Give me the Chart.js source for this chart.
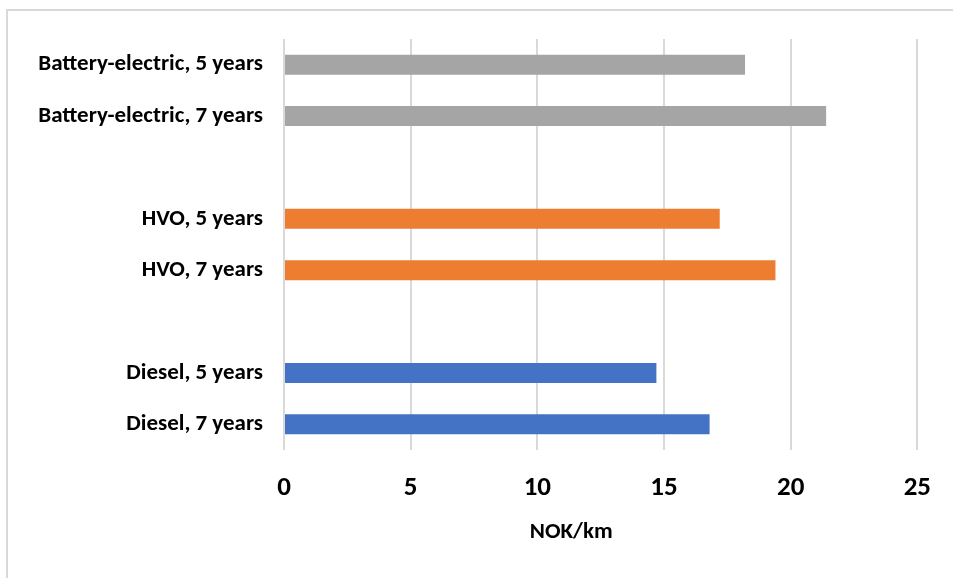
<!DOCTYPE html>
<html>
<head>
<meta charset="utf-8">
<script src="https://cdn.jsdelivr.net/npm/chart.js@4/dist/chart.umd.min.js"></script>
<style>
  html, body { margin: 0; padding: 0; background: #ffffff; }
  #wrap { position: relative; width: 953px; height: 578px; overflow: hidden; }
  #frame {
    position: absolute; left: 6px; top: 9px; width: 960px; height: 600px;
    border-top: 2px solid #d9d9d9; border-left: 2px solid #d9d9d9; box-sizing: border-box;
  }
  canvas { position: absolute; left: 0; top: 0; }
</style>
</head>
<body>
<div id="wrap">
  <div id="frame"></div>
  <canvas id="chart" width="953" height="578"></canvas>
</div>
<script>
// Cost per kilometre by powertrain and ownership period (NOK/km)
const categories = [
  'Battery-electric, 5 years',
  'Battery-electric, 7 years',
  '',
  'HVO, 5 years',
  'HVO, 7 years',
  '',
  'Diesel, 5 years',
  'Diesel, 7 years'
];
const costPerKm = [18.2, 21.4, null, 17.2, 19.4, null, 14.7, 16.8];
const groupOf = ['battery', 'battery', null, 'hvo', 'hvo', null, 'diesel', 'diesel'];
const groupColors = { battery: '#a5a5a5', hvo: '#ed7d31', diesel: '#4472c4' };
const xTicks = [0, 5, 10, 15, 20, 25];
const axisTitle = 'NOK/km';

const FONT = "'Carlito', 'Lato', 'Open Sans', sans-serif";

// Axis title drawn beneath the tick labels
const axisTitlePlugin = {
  id: 'axisTitle',
  afterDraw(chart) {
    const { ctx, chartArea } = chart;
    ctx.save();
    ctx.font = 'bold 23px ' + FONT;
    ctx.fillStyle = '#000000';
    ctx.textAlign = 'center';
    ctx.textBaseline = 'middle';
    ctx.fillText(axisTitle, chartArea.left + chartArea.width * 0.4535, chartArea.bottom + 82);
    ctx.restore();
  }
};

new Chart(document.getElementById('chart'), {
  type: 'bar',
  data: {
    labels: categories,
    datasets: [{
      data: costPerKm,
      backgroundColor: groupOf.map(g => g ? groupColors[g] : 'transparent'),
      borderWidth: 0,
      barPercentage: 0.39,
      categoryPercentage: 1
    }]
  },
  plugins: [axisTitlePlugin],
  options: {
    indexAxis: 'y',
    responsive: false,
    animation: false,
    layout: { padding: { top: 39, right: 31, bottom: 0, left: 0 } },
    plugins: {
      legend: { display: false },
      tooltip: { enabled: false }
    },
    scales: {
      x: {
        min: 0,
        max: 25,
        afterBuildTicks(scale) { scale.ticks = xTicks.map(v => ({ value: v })); },
        afterFit(scale) { scale.height = 128; },
        grid: { color: '#d9d9d9', lineWidth: 2, drawTicks: false },
        border: { display: false },
        ticks: {
          padding: 22,
          color: '#000000',
          font: { family: FONT, size: 27, weight: 'bold' }
        }
      },
      y: {
        afterFit(scale) { scale.width = 284; },
        grid: { display: false, drawTicks: false },
        border: { display: false },
        ticks: {
          padding: 21,
          color: '#000000',
          font: { family: FONT, size: 23, weight: 'bold' }
        }
      }
    }
  }
});
</script>
</body>
</html>
